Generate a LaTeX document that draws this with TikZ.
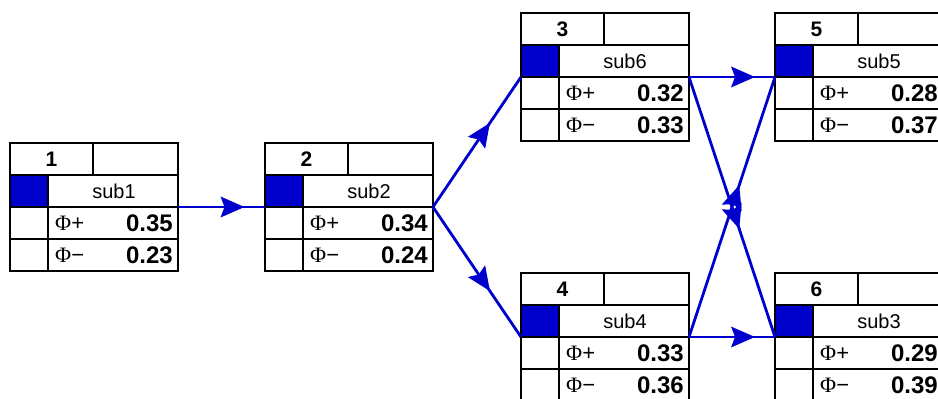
\documentclass[tikz,border=0pt]{standalone}
\usepackage{fontspec}
\setmainfont{Liberation Sans}
\newfontfamily\phifont{Liberation Serif}
\usetikzlibrary{decorations.markings}
\definecolor{rankblue}{RGB}{0,0,205}
\tikzset{
  grid/.style={draw=black,line width=1.1pt},
  numtext/.style={inner sep=0pt,font=\fontsize{21}{21}\selectfont\bfseries},
  subtext/.style={inner sep=0pt,font=\fontsize{20}{20}\selectfont},
  phitext/.style={inner sep=0pt,font=\fontsize{22}{22}\selectfont},
  valtext/.style={inner sep=0pt,font=\fontsize{24}{24}\selectfont\bfseries},
  conn/.style={draw=rankblue,line width=2.8pt,
    postaction={decorate,decoration={markings,
      mark=at position 0.5 with {\fill[rankblue] (-1pt,-10.5pt) -- (23pt,0pt) -- (-1pt,10.5pt) -- (3pt,0pt) -- cycle;}}}}
}
% one ranked alternative: name, left, top, rank, label, phi+, phi-
\newcommand{\rankbox}[7]{%
  \begin{scope}[shift={(#2,#3)}]
    \fill[rankblue] (0,32) rectangle (38,64);
    \draw[grid] (0,0) rectangle (168,128);
    \draw[grid] (0,32) -- (168,32) (0,64) -- (168,64) (0,96) -- (168,96)
                (83,0) -- (83,32) (38,32) -- (38,128);
    \node[numtext] (#1-num) at (41.5,16) {#4};
    \node[subtext] (#1-sub) at (104,48) {#5};
    \node[phitext,anchor=west] (#1-pl) at (45,80) {{\phifont Φ}+};
    \node[valtext,anchor=east] (#1-pv) at (163,80) {#6};
    \node[phitext,anchor=west] (#1-ml) at (45,112) {{\phifont Φ}−};
    \node[valtext,anchor=east] (#1-mv) at (163,112) {#7};
    \coordinate (#1-in) at (0,64);
    \coordinate (#1-out) at (168,64);
  \end{scope}}
\begin{document}
\begin{tikzpicture}[x=1pt,y=-1pt]
  \useasboundingbox (0,0) rectangle (938,399);
  \fill[white] (0,0) rectangle (938,399);
  \clip (0,0) rectangle (938,399);
  \rankbox{a}{10}{143}{1}{sub1}{0.35}{0.23}
  \rankbox{b}{265}{143}{2}{sub2}{0.34}{0.24}
  \rankbox{c}{521}{13}{3}{sub6}{0.32}{0.33}
  \rankbox{d}{521}{273}{4}{sub4}{0.33}{0.36}
  \rankbox{e}{775}{13}{5}{sub5}{0.28}{0.37}
  \rankbox{f}{775}{273}{6}{sub3}{0.29}{0.39}
  \draw[conn] (a-out) -- (b-in);
  \draw[conn] (b-out) -- (c-in);
  \draw[conn] (b-out) -- (d-in);
  \draw[conn] (c-out) -- (e-in);
  \draw[conn] (c-out) -- (f-in);
  \draw[conn] (d-out) -- (f-in);
  \draw[conn] (d-out) -- (e-in);
\end{tikzpicture}
\end{document}
